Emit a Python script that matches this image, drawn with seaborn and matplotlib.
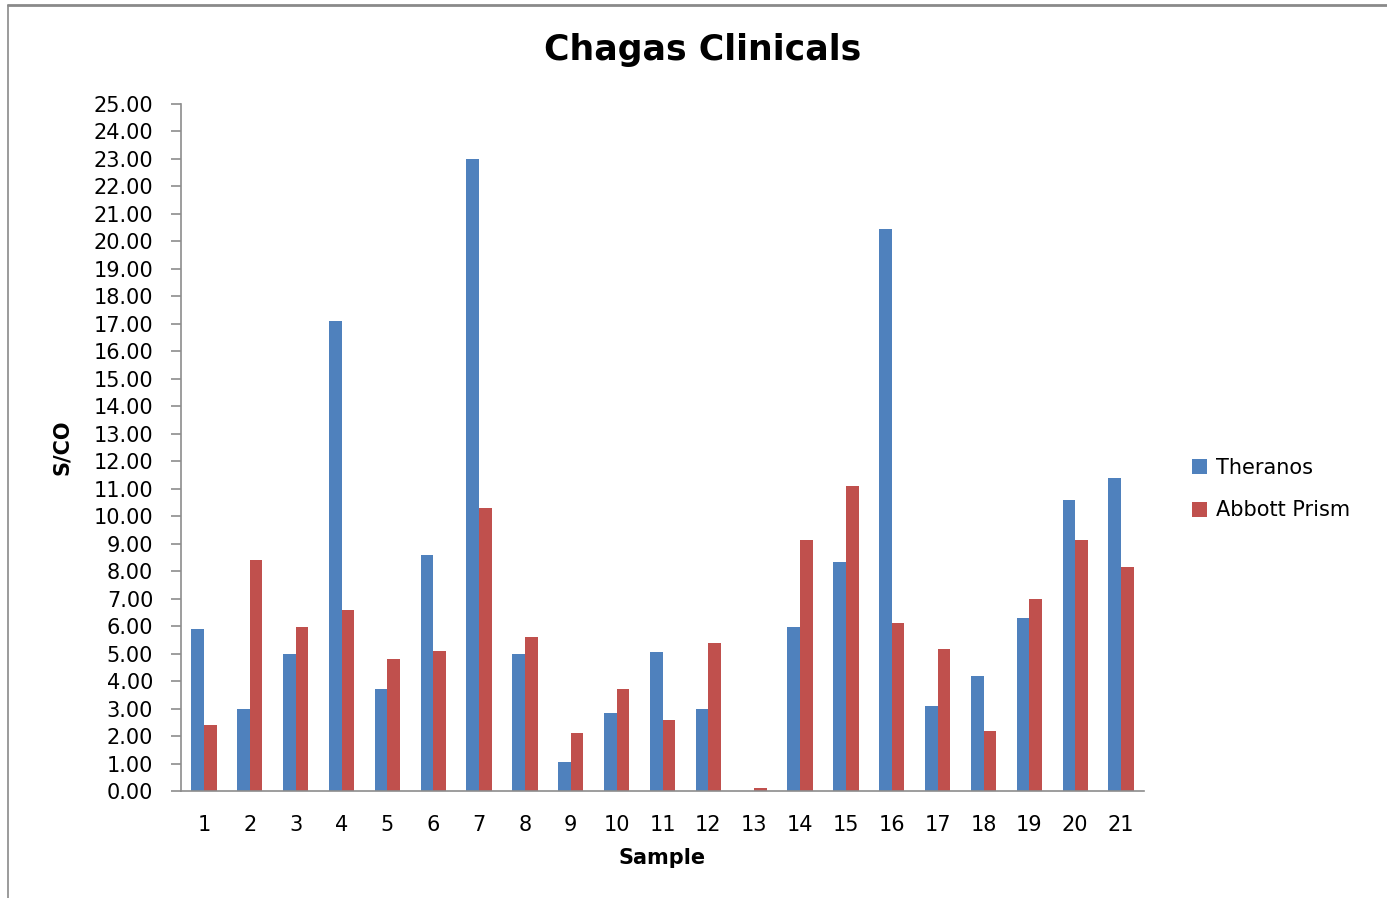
import pandas as pd
import matplotlib
matplotlib.use("Agg")
import matplotlib.pyplot as plt
import seaborn as sns
from matplotlib.lines import Line2D

# values
samples = [str(i) for i in range(1, 22)]
theranos = [5.9, 3.0, 5.0, 17.1, 3.7, 8.6, 23.0, 5.0, 1.05, 2.85, 5.05,
            2.97, 0.0, 5.95, 8.35, 20.45, 3.1, 4.2, 6.3, 10.6, 11.4]
abbott = [2.4, 8.4, 5.95, 6.6, 4.8, 5.1, 10.3, 5.6, 2.1, 3.7, 2.6,
          5.4, 0.1, 9.15, 11.1, 6.1, 5.15, 2.2, 7.0, 9.15, 8.15]
series = ["Theranos", "Abbott Prism"]
colors = ["#4F81BD", "#C0504D"]
yticks = [i for i in range(0, 26)]

df = pd.DataFrame({
    "Sample": samples * 2,
    "S/CO": theranos + abbott,
    "Series": [series[0]] * len(samples) + [series[1]] * len(samples),
})

sns.set_style("white")
plt.rcParams["font.family"] = ["DejaVu Sans"]
plt.rcParams["text.color"] = "black"

fig = plt.figure(figsize=(13.87, 8.98), dpi=100)
ax = fig.add_axes([181 / 1387, 1 - 791 / 898, (1144 - 181) / 1387, (791 - 104) / 898])

sns.barplot(data=df, x="Sample", y="S/CO", hue="Series", order=samples,
            hue_order=series, palette=colors, width=0.55, linewidth=0,
            saturation=1, ax=ax)

ax.set_xlim(-0.5, len(samples) - 0.5)
ax.set_ylim(0, 25)
ax.set_yticks(yticks)
ax.set_yticklabels([f"{v:.2f}" for v in yticks])

# category boundaries carry the tick marks, labels sit in the middle
ax.set_xticks([i - 0.5 for i in range(len(samples) + 1)], minor=True)
ax.tick_params(axis="x", which="major", length=0, pad=17, labelsize=15, labelcolor="black")
ax.tick_params(axis="x", which="minor", length=7, width=1.2, color="#8c8c8c", direction="out")
ax.tick_params(axis="y", length=7, width=1.2, color="#8c8c8c", pad=13, labelsize=15,
               labelcolor="black", left=True, direction="out")

for s in ["top", "right"]:
    ax.spines[s].set_visible(False)
for s in ["left", "bottom"]:
    ax.spines[s].set_color("#8c8c8c")
    ax.spines[s].set_linewidth(1.2)

ax.set_xlabel("Sample", fontsize=15, fontweight="bold", labelpad=10, color="black")
ax.set_ylabel("S/CO", fontsize=15, fontweight="bold", color="black")
ax.yaxis.set_label_coords(-109 / 963, 0.5)

fig.text(703 / 1387, 1 - 50 / 898, "Chagas Clinicals", ha="center", va="center",
         fontsize=25, fontweight="bold", color="black")

leg = ax.legend(loc="center left", bbox_to_anchor=(1173 / 1387, 1 - 489 / 898),
                bbox_transform=fig.transFigure, frameon=False, fontsize=15,
                handlelength=0.75, handleheight=0.75, handletextpad=0.4,
                labelspacing=1.1, title=None)
for t in leg.get_texts():
    t.set_color("black")

# chart frame (Excel style)
fig.add_artist(Line2D([8 / 1387, 1], [1 - 5 / 898, 1 - 5 / 898], transform=fig.transFigure,
                      color="#8a8a8a", lw=2))
fig.add_artist(Line2D([8 / 1387, 8 / 1387], [0, 1 - 5 / 898], transform=fig.transFigure,
                      color="#8a8a8a", lw=1.2))

fig.savefig("out.png", dpi=100)
